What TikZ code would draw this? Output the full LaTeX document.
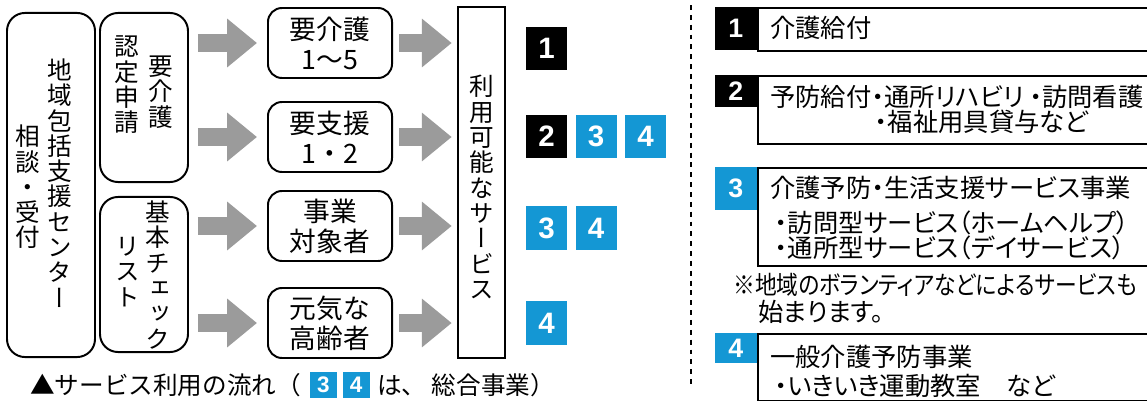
\documentclass[tikz,border=0pt]{standalone}
\usepackage{fontspec}
\usepackage{graphicx}
\setmainfont{Noto Sans CJK JP}
\newfontfamily\vertfont{Noto Sans CJK JP}[RawFeature=+vert]
\newfontfamily\propfont{Noto Sans CJK JP}[RawFeature=+palt]
\newfontfamily\numfont{Liberation Sans}
\usetikzlibrary{positioning, arrows.meta}
\definecolor{badgeblue}{RGB}{20,151,212}
\definecolor{arrowgray}{RGB}{155,155,155}

\begin{document}
\begin{tikzpicture}[x=0.025cm, y=-0.025cm, auto, node distance=0.2cm]
	\tikzstyle{roundbox} = [rectangle, draw=black, line width=1.4pt, rounded corners=0.45cm, inner sep=0pt];
	\tikzstyle{grade} = [rectangle, draw=black, line width=1.4pt, rounded corners=0.35cm, minimum width=3.1cm, minimum height=1.75cm, align=center, inner sep=0pt, font={\fontsize{19pt}{21.3pt}\selectfont}];
	\tikzstyle{vtext} = [align=center, inner sep=0pt, font={\vertfont\fontsize{17.5pt}{18pt}\selectfont}];
	\tikzstyle{blackbadge} = [rectangle, fill=black, text=white, minimum width=1.025cm, minimum height=1.075cm, inner sep=0pt, font={\numfont\bfseries\fontsize{21pt}{21pt}\selectfont}];
	\tikzstyle{bluebadge} = [blackbadge, fill=badgeblue];
	\tikzstyle{tag} = [minimum width=1.05cm, anchor=north east, font={\numfont\bfseries\fontsize{19pt}{19pt}\selectfont}];
	\tikzstyle{smalltag} = [minimum width=0.675cm, minimum height=0.65cm, font={\numfont\bfseries\fontsize{16pt}{16pt}\selectfont}];
	\tikzstyle{flow} = [color=arrowgray, line width=12.8pt, -{Triangle[length=21.3pt, width=33.4pt]}];
	\tikzstyle{panel} = [rectangle, draw=black, line width=1.4pt, anchor=north west, minimum width=10.075cm, inner sep=0pt];
	\tikzstyle{entry} = [anchor=west, inner sep=0pt, font={\propfont\fontsize{18pt}{18pt}\selectfont}];

	\useasboundingbox (0,0) rectangle (1147,401);
	\clip (0,0) rectangle (1147,401);

	% left: where the request starts
	\node[roundbox, minimum width=2.2cm, minimum height=8.6cm] (center) at (51,185) {};
	\node[vtext] (centername) at (60,183) {地\\域\\包\\括\\支\\援\\セ\\ン\\タ\\ー};
	\node[vtext] (consult) at (28,187) {相\\談\\・\\受\\付};
	\node[roundbox, minimum width=2.2cm, minimum height=4.225cm] (request) at (144,97.5) {};
	\node[vtext] (requestA) at (161,92) {要\\介\\護};
	\node[vtext] (requestB) at (127,85) {認\\定\\申\\請};
	\node[roundbox, minimum width=2.2cm, minimum height=3.875cm] (check) at (144,274.5) {};
	\node[vtext] (checkA) at (158,275) {基\\本\\チ\\ェ\\ッ\\ク};
	\node[vtext] (checkB) at (128,272) {リ\\ス\\ト};

	% middle: care levels and services
	\node[grade] (care) at (330,43) {要介護\\1～5};
	\node[grade] (support) at (330,137) {要支援\\1・2};
	\node[grade] (target) at (330,226) {事業\\対象者};
	\node[grade] (active) at (330,323) {元気な\\高齢者};
	\node[rectangle, draw=black, line width=1.8pt, minimum width=1.175cm, minimum height=8.775cm, inner sep=0pt] (service) at (481.5,182.5) {};
	\node[vtext] (servicename) at (482,187) {利\\用\\可\\能\\な\\サ\\ー\\ビ\\ス};

	\path[shorten <=0.225cm, shorten >=0.25cm]
	(request.east |- care.west) edge[flow] (care.west)
	(request.east |- support.west) edge[flow] (support.west)
	(check.east |- target.west) edge[flow] (target.west)
	(check.east |- active.west) edge[flow] (active.west);
	\path[shorten <=0.15cm, shorten >=0.125cm]
	(care.east) edge[flow] (care.east -| service.west)
	(support.east) edge[flow] (support.east -| service.west)
	(target.east) edge[flow] (target.east -| service.west)
	(active.east) edge[flow] (active.east -| service.west);

	\node[blackbadge] (kaigo) at (546.5,48.5) {1};
	\node[blackbadge] (yobo) at (546.5,136.5) {2};
	\node[bluebadge, right=of yobo] (sogoA) {3};
	\node[bluebadge, right=of sogoA] (ippanA) {4};
	\node[bluebadge] (sogoB) at (546.5,228) {3};
	\node[bluebadge, right=of sogoB] (ippanB) {4};
	\node[bluebadge] (ippanC) at (546.5,323) {4};

	% caption
	\node[anchor=west, inner sep=0pt, font={\fontsize{17.5pt}{17.5pt}\selectfont}] (captionA) at (30,385) {▲サービス利用の流れ（};
	\node[bluebadge, smalltag] (capthree) at (323.5,385) {3};
	\node[bluebadge, smalltag, right=0.125cm of capthree] (capfour) {4};
	\node[anchor=west, inner sep=0pt, font={\fontsize{17.5pt}{17.5pt}\selectfont}, right=0.175cm of capfour] (captionB) {は、 総合事業）};

	% divider
	\coordinate (divtop) at (691,5);
	\coordinate (divbot) at (691,388);
	\draw[line width=1.4pt, dash pattern=on 3.5pt off 3.5pt] (divtop) -- (divbot);

	% right: what each number means
	\node[panel, minimum height=1.075cm] (benefit) at (757,7) {};
	\node[blackbadge, tag, minimum height=1.075cm] (tagA) at (benefit.north west) {1};
	\node[entry] (benefitA) at (770,28) {介護給付};

	\node[panel, minimum height=1.7cm] (prevent) at (757,75) {};
	\node[blackbadge, tag, minimum height=0.8cm] (tagB) at (prevent.north west) {2};
	\node[entry] (preventA) at (770,97) {予防給付・通所リハビリ ・訪問看護};
	\node[entry] (preventB) at (875,122) {・福祉用具貸与など};

	\node[panel, minimum height=2.45cm] (daily) at (757,167) {};
	\node[bluebadge, tag, minimum height=1.075cm] (tagC) at (daily.north west) {3};
	\node[entry] (dailyA) at (770,188) {介護予防・生活支援サービス事業};
	\node[entry] (dailyB) at (775,223) {・訪問型サービス（ホームヘルプ）};
	\node[entry] (dailyC) at (775,248) {・通所型サービス（デイサービス）};
	\node[entry] (noteA) at (733,285) {\scalebox{0.86}[1]{※地域のボランティアなどによるサービスも}};
	\node[entry] (noteB) at (758,312) {始まります。};

	\node[panel, minimum height=1.675cm] (general) at (757,333) {};
	\node[bluebadge, tag, minimum height=0.75cm] (tagD) at (general.north west) {4};
	\node[entry] (generalA) at (770,357) {一般介護予防事業};
	\node[entry] (generalB) at (775,386) {・いきいき運動教室　など};
\end{tikzpicture}
\end{document}
